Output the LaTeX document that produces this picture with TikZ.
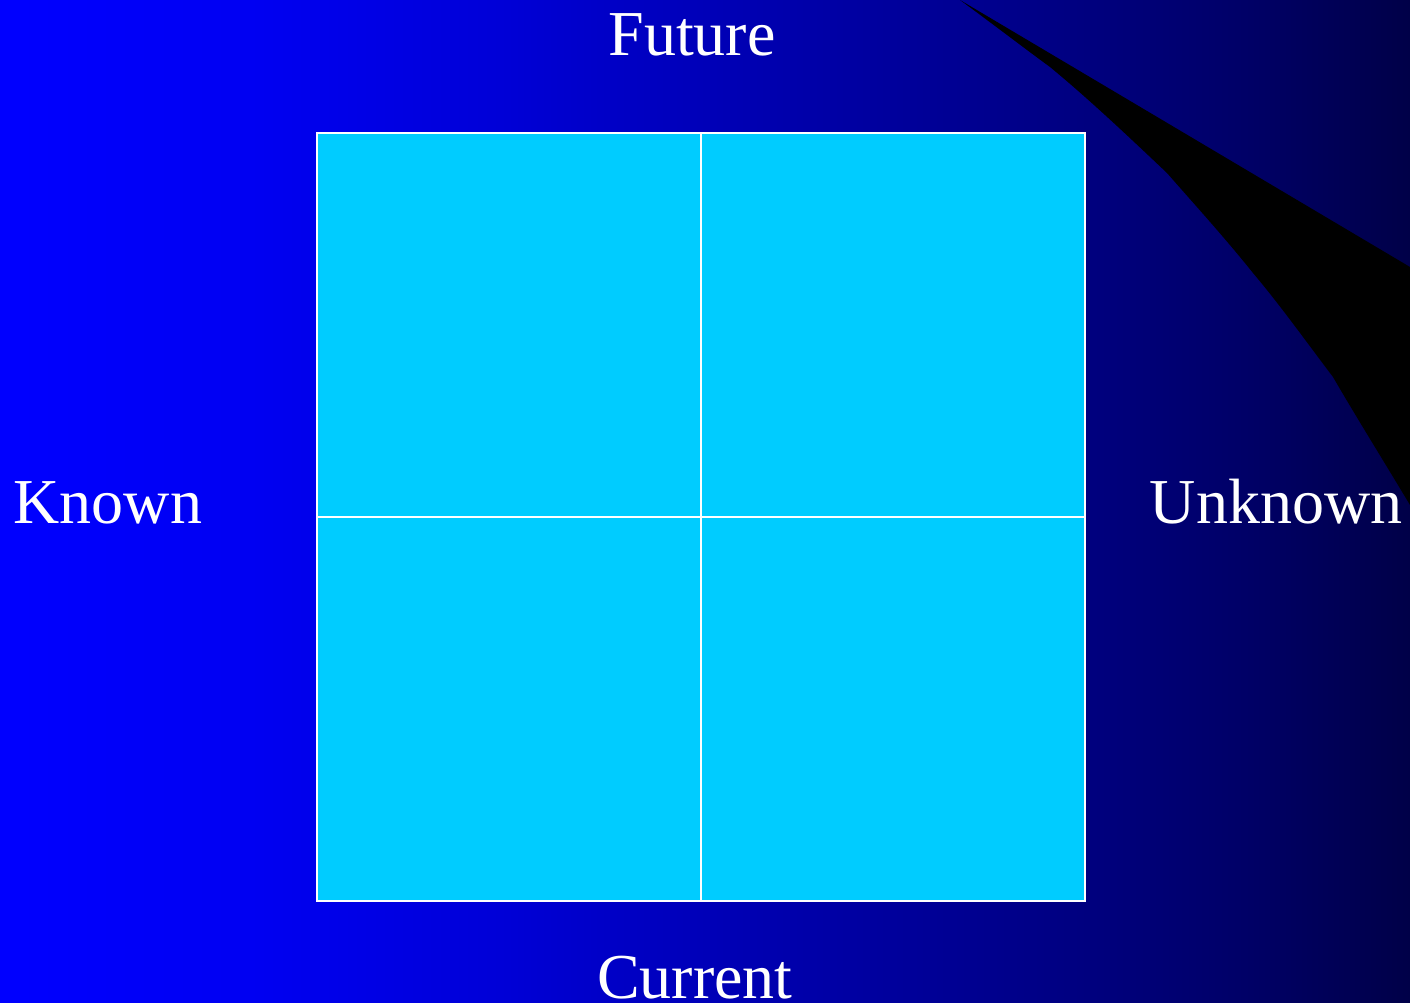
\documentclass[tikz,border=0pt]{standalone}
\usepackage{fontspec}
\setmainfont{Liberation Serif}
% TikZ maps a path's box onto the 25bp--75bp part of a shading
\pgfdeclarehorizontalshading{bgshade}{100bp}{
  color(0bp)=(rgb,255:red,0;green,0;blue,255);
  color(25bp)=(rgb,255:red,0;green,0;blue,255);
  color(33.85bp)=(rgb,255:red,0;green,0;blue,242);
  color(42.75bp)=(rgb,255:red,0;green,0;blue,215);
  color(49.8bp)=(rgb,255:red,0;green,0;blue,185);
  color(56.9bp)=(rgb,255:red,0;green,0;blue,155);
  color(64bp)=(rgb,255:red,0;green,0;blue,125);
  color(69.35bp)=(rgb,255:red,0;green,0;blue,102);
  color(75bp)=(rgb,255:red,0;green,0;blue,72);
  color(100bp)=(rgb,255:red,0;green,0;blue,72)}
\definecolor{cellfill}{HTML}{00CCFF}
\tikzset{
  lbl/.style={text=white, font=\fontsize{64}{64}\selectfont, inner sep=0pt, anchor=base},
  cell/.style={draw=white, line width=1.5pt, fill=cellfill}
}
\begin{document}
\begin{tikzpicture}[x=1pt,y=-1pt]
\useasboundingbox (0,0) rectangle (1410,1002);
\shade[shading=bgshade] (0,0) rectangle (1410,1002);
% black swoosh
\fill[black] (960,0) -- (1410,267) -- (1410,505)
  .. controls (1380,455) and (1355,415) .. (1333,377)
  .. controls (1305,340) and (1280,305) .. (1253,273)
  .. controls (1225,238) and (1195,205) .. (1167,173)
  .. controls (1130,138) and (1090,100) .. (1050,67)
  .. controls (1020,45) and (990,22) .. cycle;
% grid
\path[cell] (317,133) rectangle (701,517);
\path[cell] (701,133) rectangle (1085,517);
\path[cell] (317,517) rectangle (701,901);
\path[cell] (701,517) rectangle (1085,901);
\node[lbl] (future) at (692,55) {Future};
\node[lbl] (current) at (695,998) {Current};
\node[lbl] (known) at (108,523) {Known};
\node[lbl] (unknown) at (1276,523) {Unknown};
\end{tikzpicture}
\end{document}
